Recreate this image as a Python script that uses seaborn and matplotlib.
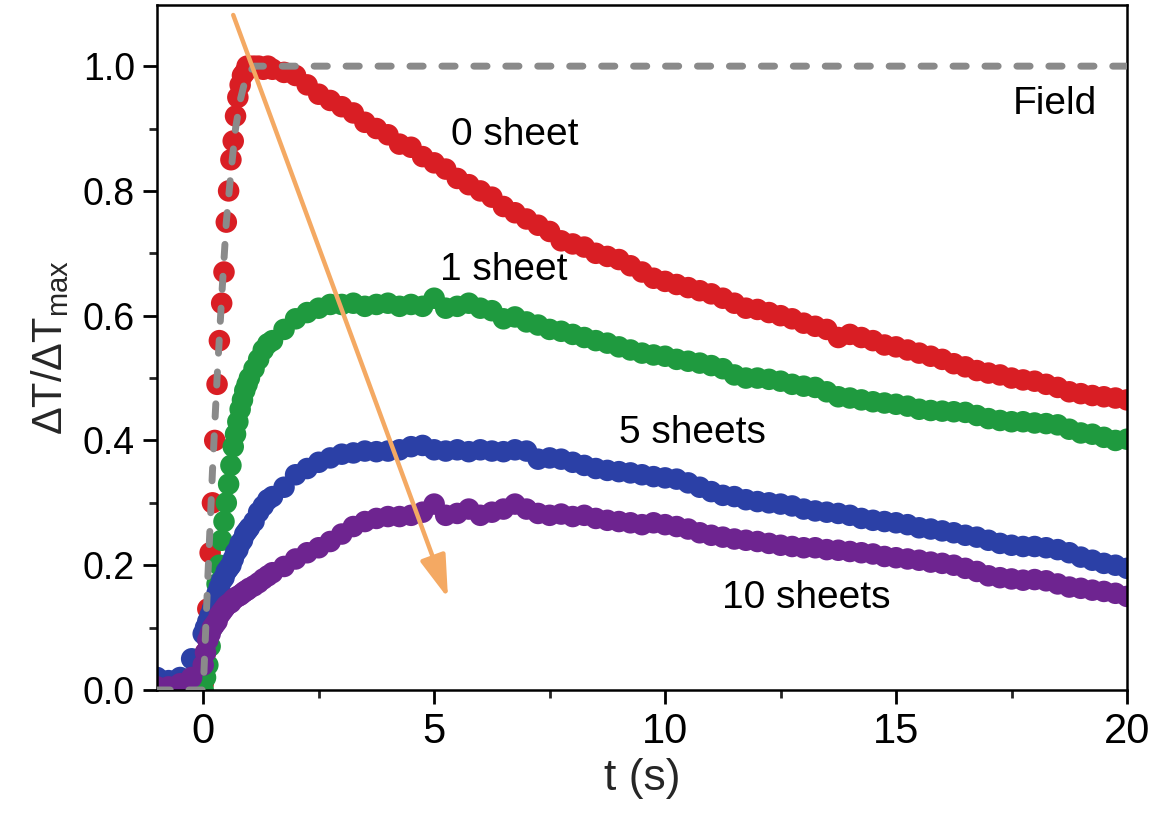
import numpy as np
import pandas as pd
import matplotlib
matplotlib.use("Agg")
import matplotlib.pyplot as plt
from matplotlib import font_manager
from matplotlib.ticker import MultipleLocator
import seaborn as sns

# ---------------- data ----------------
nan = np.nan
T = [-1.0, -0.75, -0.5, -0.25, 0.0,
     0.05, 0.1, 0.15, 0.2, 0.25, 0.3, 0.35, 0.4, 0.45, 0.5,
     0.55, 0.6, 0.65, 0.7, 0.75, 0.8, 0.85, 0.9, 0.95, 1.0,
     1.1, 1.2, 1.3, 1.4, 1.5,
     1.75, 2.0, 2.25, 2.5, 2.75, 3.0, 3.25, 3.5, 3.75, 4.0,
     4.25, 4.5, 4.75, 5.0, 5.25, 5.5, 5.75, 6.0, 6.25, 6.5,
     6.75, 7.0, 7.25, 7.5, 7.75, 8.0, 8.25, 8.5, 8.75, 9.0,
     9.25, 9.5, 9.75, 10.0, 10.25, 10.5, 10.75, 11.0, 11.25, 11.5,
     11.75, 12.0, 12.25, 12.5, 12.75, 13.0, 13.25, 13.5, 13.75, 14.0,
     14.25, 14.5, 14.75, 15.0, 15.25, 15.5, 15.75, 16.0, 16.25, 16.5,
     16.75, 17.0, 17.25, 17.5, 17.75, 18.0, 18.25, 18.5, 18.75, 19.0,
     19.25, 19.5, 19.75, 20.0]

sheet0 = [nan, nan, nan, nan, 0.01,
          0.06, 0.13, 0.22, 0.30, 0.40, 0.49, 0.56, 0.62, 0.67, 0.75,
          0.80, 0.85, 0.88, 0.92, 0.95, 0.97, 0.985, 0.99, 1.0, 1.0,
          1.0, 1.0, 0.995, 1.0, 0.995,
          0.99, 0.985, 0.97, 0.955, 0.945, 0.935, 0.925, 0.91, 0.90, 0.89,
          0.875, 0.87, 0.855, 0.845, 0.835, 0.82, 0.81, 0.80, 0.79, 0.775,
          0.765, 0.755, 0.745, 0.735, 0.72, 0.715, 0.71, 0.70, 0.695, 0.69,
          0.68, 0.67, 0.66, 0.655, 0.65, 0.645, 0.64, 0.635, 0.628, 0.62,
          0.612, 0.61, 0.605, 0.60, 0.595, 0.588, 0.583, 0.578, 0.565, 0.57,
          0.565, 0.56, 0.553, 0.55, 0.545, 0.54, 0.535, 0.53, 0.523, 0.518,
          0.512, 0.508, 0.505, 0.50, 0.497, 0.495, 0.49, 0.485, 0.478, 0.475,
          0.472, 0.47, 0.468, 0.465]

sheet1 = [nan, nan, nan, nan, 0.0,
          0.02, 0.04, 0.07, 0.10, 0.13, 0.17, 0.20, 0.24, 0.27, 0.30,
          0.33, 0.36, 0.39, 0.41, 0.43, 0.45, 0.465, 0.48, 0.49, 0.50,
          0.515, 0.53, 0.545, 0.555, 0.56,
          0.578, 0.595, 0.605, 0.612, 0.618, 0.618, 0.62, 0.615, 0.618, 0.62,
          0.615, 0.618, 0.615, 0.628, 0.612, 0.615, 0.62, 0.612, 0.608, 0.595,
          0.598, 0.59, 0.585, 0.578, 0.575, 0.57, 0.565, 0.56, 0.556, 0.55,
          0.545, 0.54, 0.537, 0.535, 0.53, 0.527, 0.524, 0.52, 0.515, 0.505,
          0.50, 0.50, 0.498, 0.495, 0.49, 0.487, 0.485, 0.478, 0.47, 0.468,
          0.465, 0.462, 0.46, 0.458, 0.455, 0.45, 0.448, 0.447, 0.446, 0.445,
          0.44, 0.435, 0.432, 0.43, 0.43, 0.428, 0.427, 0.425, 0.418, 0.412,
          0.41, 0.405, 0.40, 0.402]

sheet5 = [0.02, 0.015, 0.02, 0.05, 0.09,
          0.10, 0.11, 0.12, 0.13, 0.14, 0.155, 0.165, 0.175, 0.18, 0.19,
          0.195, 0.20, 0.21, 0.22, 0.225, 0.235, 0.24, 0.25, 0.255, 0.26,
          0.27, 0.285, 0.295, 0.305, 0.31,
          0.325, 0.345, 0.355, 0.365, 0.372, 0.378, 0.38, 0.383, 0.382, 0.383,
          0.385, 0.39, 0.392, 0.385, 0.383, 0.385, 0.382, 0.385, 0.383, 0.382,
          0.385, 0.383, 0.37, 0.372, 0.37, 0.365, 0.36, 0.355, 0.352, 0.35,
          0.348, 0.345, 0.342, 0.34, 0.338, 0.332, 0.325, 0.318, 0.312, 0.31,
          0.305, 0.302, 0.30, 0.298, 0.295, 0.29, 0.287, 0.285, 0.283, 0.28,
          0.275, 0.272, 0.27, 0.268, 0.265, 0.26, 0.258, 0.255, 0.252, 0.248,
          0.245, 0.24, 0.235, 0.232, 0.23, 0.23, 0.228, 0.225, 0.22, 0.213,
          0.208, 0.203, 0.20, 0.195]

sheet10 = [0.005, 0.005, 0.01, 0.02, 0.04,
           0.06, 0.08, 0.09, 0.10, 0.105, 0.11, 0.12, 0.125, 0.13, 0.135,
           0.138, 0.14, 0.145, 0.148, 0.15, 0.152, 0.155, 0.158, 0.16, 0.163,
           0.167, 0.172, 0.178, 0.183, 0.188,
           0.198, 0.21, 0.22, 0.228, 0.238, 0.25, 0.262, 0.27, 0.275, 0.278,
           0.278, 0.28, 0.285, 0.298, 0.28, 0.283, 0.29, 0.28, 0.285, 0.29,
           0.298, 0.29, 0.283, 0.28, 0.282, 0.278, 0.28, 0.275, 0.272, 0.27,
           0.268, 0.265, 0.268, 0.265, 0.262, 0.258, 0.252, 0.248, 0.245, 0.242,
           0.24, 0.238, 0.235, 0.232, 0.23, 0.228, 0.228, 0.225, 0.224, 0.222,
           0.22, 0.218, 0.214, 0.212, 0.21, 0.208, 0.205, 0.203, 0.20, 0.195,
           0.19, 0.183, 0.18, 0.178, 0.176, 0.177, 0.175, 0.17, 0.165, 0.163,
           0.16, 0.158, 0.155, 0.15]

field_t = [-1.0, 0.0, 0.1, 0.2, 0.3, 0.4, 0.5, 0.6, 0.7, 0.8, 0.9, 1.0, 1.1, 20.0]
field_v = [0.0, 0.0, 0.18, 0.35, 0.50, 0.63, 0.75, 0.83, 0.90, 0.945, 0.975, 0.99, 1.0, 1.0]

labels = ["0 sheet", "1 sheet", "5 sheets", "10 sheets", "Field"]
x_ticks = [0, 5, 10, 15, 20]
y_ticks = [0.0, 0.2, 0.4, 0.6, 0.8, 1.0]

# ---------------- style ----------------
sns.set_style("ticks")
avail = {f.name for f in font_manager.fontManager.ttflist}
base_font = "Liberation Sans" if "Liberation Sans" in avail else "DejaVu Sans"
narrow_font = "Liberation Sans Narrow" if "Liberation Sans Narrow" in avail else base_font
plt.rcParams["font.family"] = [base_font, "DejaVu Sans"]
plt.rcParams["mathtext.fontset"] = "custom"
plt.rcParams["mathtext.rm"] = base_font

df = pd.DataFrame({"t": T, "s0": sheet0, "s1": sheet1, "s5": sheet5, "s10": sheet10})
fdf = pd.DataFrame({"t": field_t, "v": field_v})

fig = plt.figure(figsize=(11.52, 8.22), dpi=100)
ax = fig.add_axes([0.1363, 0.1606, 0.9783 - 0.1363, 0.9939 - 0.1606])

colors = {"s0": "#d91e24", "s1": "#1f9a3f", "s5": "#2b40a6", "s10": "#6e2490"}
for key in ["s0", "s1", "s5", "s10"]:
    sns.scatterplot(data=df, x="t", y=key, ax=ax, color=colors[key], s=240,
                    linewidth=0, edgecolor="none", zorder=2)

sns.lineplot(data=fdf, x="t", y="v", ax=ax, color="#8a8a8a", lw=5, zorder=3)
ln = ax.get_lines()[-1]
ln.set_dashes((1.9, 2.7))
ln.set_dash_capstyle("round")

ax.annotate("", xy=(5.3, 0.147), xytext=(0.65, 1.082),
            arrowprops=dict(arrowstyle="-|>,head_length=1.3,head_width=0.4",
                            color="#f4a963", lw=3.2, mutation_scale=20,
                            shrinkA=0, shrinkB=0), zorder=4)

txt_kw = dict(fontsize=28, ha="center", va="center", color="black")
ax.text(6.75, 0.889, labels[0], **txt_kw)
ax.text(6.5, 0.673, labels[1], **txt_kw)
ax.text(10.6, 0.412, labels[2], **txt_kw)
ax.text(13.05, 0.147, labels[3], **txt_kw)
ax.text(18.44, 0.94, labels[4], **txt_kw)

ax.set_xlim(-1, 20)
ax.set_ylim(0, 1.098)
ax.set_xticks(x_ticks)
ax.set_yticks(y_ticks)
ax.set_xticklabels([str(v) for v in x_ticks], fontsize=30, family=narrow_font)
ax.set_yticklabels([f"{v:.1f}" for v in y_ticks], fontsize=27)
ax.xaxis.set_minor_locator(MultipleLocator(2.5))
ax.yaxis.set_minor_locator(MultipleLocator(0.1))
ax.tick_params(which="major", direction="out", length=10, width=2, pad=6, colors="black")
ax.tick_params(which="minor", direction="out", length=6, width=2)
ax.tick_params(top=False, right=False, which="both")

for sp in ax.spines.values():
    sp.set_visible(True)
    sp.set_linewidth(1.8)
    sp.set_color("black")

ax.set_xlabel("t (s)", fontsize=32, family=narrow_font, labelpad=4)
ax.set_ylabel("ΔT/ΔT$_{\\mathregular{max}}$", fontsize=30, family=narrow_font, labelpad=8)

fig.savefig("out.png", dpi=100, facecolor="white")
